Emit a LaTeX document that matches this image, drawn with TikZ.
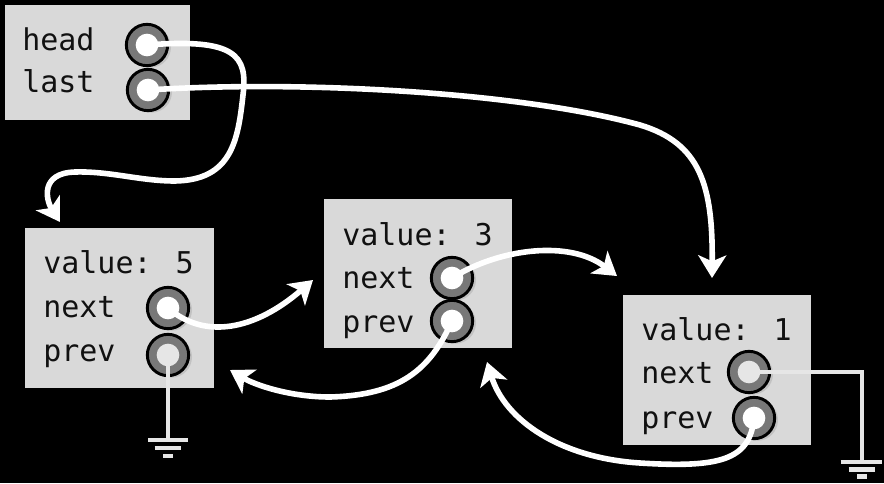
\documentclass[tikz,border=0pt]{standalone}
\usepackage{fontspec}
\newfontfamily\codefont{DejaVu Sans Mono}
\usetikzlibrary{arrows.meta,shadows}
\definecolor{boxgray}{HTML}{D9D9D9}
\definecolor{ptrgray}{HTML}{787878}
\definecolor{nullgray}{HTML}{E6E6E6}
\definecolor{txt}{HTML}{111111}

\begin{document}
\begin{tikzpicture}[x=0.75pt,y=-0.75pt,
  box/.style={fill=boxgray, draw=none, anchor=north west, inner sep=0},
  lbl/.style={anchor=base west, inner sep=0, text=txt,
              font=\codefont\fontsize{22.5}{26}\selectfont},
  ptr/.style={circle, draw=black, line width=2.2pt, fill=ptrgray,
              minimum size=31pt, inner sep=0,
              drop shadow={opacity=0.25, shadow xshift=2.5pt, shadow yshift=-1.5pt}},
  arr/.style={draw=white, line width=4.2pt, line cap=round,
              -{Stealth[length=17pt,width=21pt,inset=4.5pt]}},
  nul/.style={draw=nullgray, line width=3.6pt},
  dot/.style={fill=white},
  nuldot/.style={fill=nullgray},
]
\useasboundingbox (0,0) rectangle (884,483);
\fill[black] (0,0) rectangle (884,483);

% list header
\node[box, minimum width=138.75pt, minimum height=86.25pt] (hb) at (5,5) {};
\node[lbl] (hl) at (22,50) {head};
\node[lbl] (ll) at (22,92) {last};
\node[ptr] (hd) at (147,45) {};
\node[ptr] (la) at (148,90) {};

% node with value 5
\node[box, minimum width=141.75pt, minimum height=120pt] (b5) at (25,228) {};
\node[lbl] (v5) at (43,273) {value: 5};
\node[lbl] (x5) at (43,317) {next};
\node[lbl] (r5) at (43,361) {prev};
\node[ptr] (n5) at (168,308) {};
\node[ptr] (p5) at (168,355) {};

% node with value 3
\node[box, minimum width=141pt, minimum height=111.75pt] (b3) at (324,199) {};
\node[lbl] (v3) at (342,245) {value: 3};
\node[lbl] (x3) at (342,288) {next};
\node[lbl] (r3) at (342,332) {prev};
\node[ptr] (n3) at (452,278) {};
\node[ptr] (p3) at (452,321) {};

% node with value 1
\node[box, minimum width=141pt, minimum height=112.5pt] (b1) at (623,295) {};
\node[lbl] (v1) at (641,340) {value: 1};
\node[lbl] (x1) at (641,383) {next};
\node[lbl] (r1) at (641,428) {prev};
\node[ptr] (n1) at (749,372) {};
\node[ptr] (p1) at (754,418) {};

% null pointers to ground
\coordinate (g5) at (168,440);
\coordinate (g1) at (862,462);
\draw[nul] (p5.center) -- (g5);
\draw[nul] ([xshift=-15pt]g5) -- ([xshift=15pt]g5);
\draw[nul] ([xshift=-10pt,yshift=-6pt]g5) -- ([xshift=10pt,yshift=-6pt]g5);
\draw[nul] ([xshift=-3.5pt,yshift=-12pt]g5) -- ([xshift=3.5pt,yshift=-12pt]g5);
\draw[nul] (n1.center) -| (g1);
\draw[nul] ([xshift=-16pt]g1) -- ([xshift=15pt]g1);
\draw[nul] ([xshift=-10pt,yshift=-5.5pt]g1) -- ([xshift=10pt,yshift=-5.5pt]g1);
\draw[nul] ([xshift=-3.5pt,yshift=-11pt]g1) -- ([xshift=3.5pt,yshift=-11pt]g1);
\fill[nuldot] (p5.center) circle (8.5pt);
\fill[nuldot] (n1.center) circle (8.5pt);

% arrow tips
\coordinate (t5top) at (60,222);
\coordinate (t1top) at (712,278);
\coordinate (t3in) at (313,280);
\coordinate (t5in) at (230,370);
\coordinate (t1in) at (617,276);
\coordinate (t3bot) at (487,362);

% pointer arrows
\draw[arr] (hd.center) .. controls (235,38) and (248,55) .. (243,95)
  .. controls (238,140) and (232,180) .. (175,181)
  .. controls (140,181) and (110,171) .. (75,172)
  .. controls (40,173) and (46,200) .. (t5top);
\draw[arr] (la.center) .. controls (300,80) and (520,92) .. (640,125)
  .. controls (700,143) and (713,185) .. (t1top);
\draw[arr] (n5.center) .. controls (205,340) and (255,330) .. (t3in);
\draw[arr] (p3.center) .. controls (430,370) and (400,395) .. (330,397)
  .. controls (290,397) and (255,385) .. (t5in);
\draw[arr] (n3.center) .. controls (500,248) and (570,240) .. (t1in);
\draw[arr] (p1.center) .. controls (750,460) and (720,468) .. (640,463)
  .. controls (560,458) and (505,420) .. (t3bot);

% pointer origins
\foreach \p in {hd,la,n5,n3,p3,p1}
  \fill[dot] (\p.center) circle (8.5pt);
\end{tikzpicture}
\end{document}
